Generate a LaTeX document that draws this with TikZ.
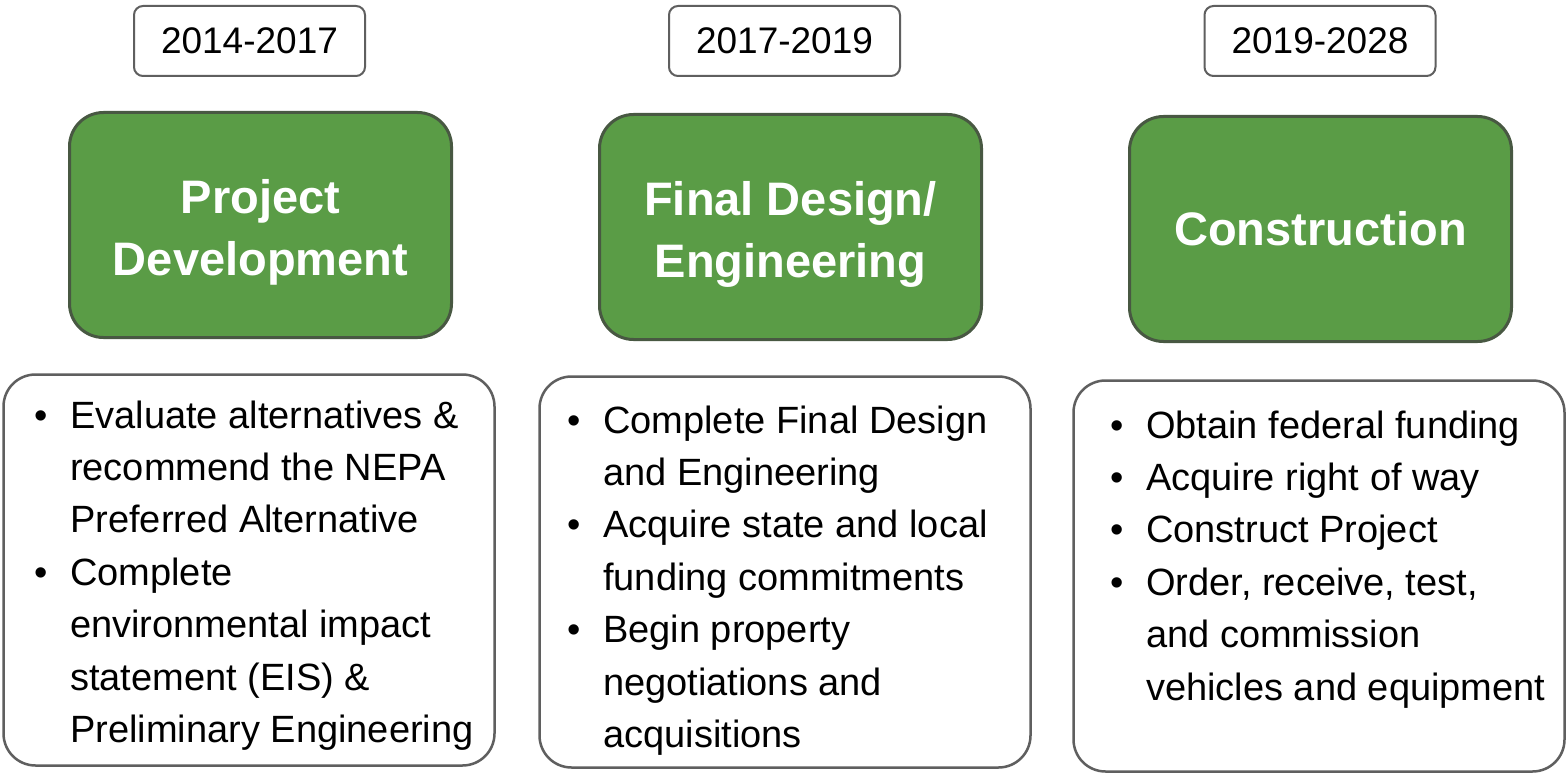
\documentclass[tikz,border=0pt]{standalone}
\usepackage{fontspec}
\setmainfont{Liberation Sans}
\definecolor{phasegreen}{RGB}{90,156,70}
\definecolor{phaseedge}{RGB}{72,88,66}
\definecolor{boxgray}{RGB}{95,95,95}
\newcommand{\bline}[1]{\hbox{\llap{•\hspace{22pt}}#1}}
\newcommand{\contline}[1]{\hbox{#1}}
\tikzset{
  yearbox/.style={draw=boxgray, line width=2pt, rounded corners=9pt, fill=white,
    minimum width=231pt, minimum height=70pt, inner sep=0pt,
    font=\fontsize{37}{44}\selectfont},
  phasebox/.style={draw=phaseedge, line width=3pt, fill=phasegreen, rounded corners=34pt,
    minimum width=382pt, minimum height=225pt, inner sep=0pt},
  phasetitle/.style={text=white, align=center, inner sep=0pt,
    font=\fontsize{47}{62}\bfseries\selectfont},
  listbox/.style={draw=boxgray, line width=2.5pt, rounded corners=32pt,
    minimum width=491pt, minimum height=391pt, inner sep=0pt},
  listtext/.style={anchor=base west, inner sep=0pt,
    font=\fontsize{38}{52.4}\selectfont}
}
\begin{document}
\begin{tikzpicture}[x=1pt,y=-1pt]
\useasboundingbox[fill=white] (0,0) rectangle (1566,773);

% year boxes
\node[yearbox] (y1) at (249.5,41) {2014-2017};
\node[yearbox] (y2) at (784.5,41) {2017-2019};
\node[yearbox] (y3) at (1320,41) {2019-2028};

% phase boxes
\node[phasebox] (g1) at (260.5,225) {};
\node[phasebox] (g2) at (790.5,227) {};
\node[phasebox] (g3) at (1320.5,229) {};
\node[phasetitle, yshift=-7pt] (t1) at (g1.center) {Project\\Development};
\node[phasetitle, yshift=-7pt] (t2) at (g2.center) {Final Design/\\Engineering};
\node[phasetitle] (t3) at (g3.center) {Construction};

% list boxes
\node[listbox] (b1) at (249,570) {};
\node[listbox] (b2) at (785,572) {};
\node[listbox] (b3) at (1319,576) {};

\node[listtext] (l1) at (70,428) {\vtop{%
  \bline{Evaluate alternatives \&}
  \contline{recommend the NEPA}
  \contline{Preferred Alternative}
  \bline{Complete}
  \contline{environmental impact}
  \contline{statement (EIS) \&}
  \contline{Preliminary Engineering}}};

\node[listtext] (l2) at (603,433) {\vtop{%
  \bline{Complete Final Design}
  \contline{and Engineering}
  \bline{Acquire state and local}
  \contline{funding commitments}
  \bline{Begin property}
  \contline{negotiations and}
  \contline{acquisitions}}};

\node[listtext] (l3) at (1146,438) {\vtop{%
  \bline{Obtain federal funding}
  \bline{Acquire right of way}
  \bline{Construct Project}
  \bline{Order, receive, test,}
  \contline{and commission}
  \contline{vehicles and equipment}}};
\end{tikzpicture}
\end{document}
